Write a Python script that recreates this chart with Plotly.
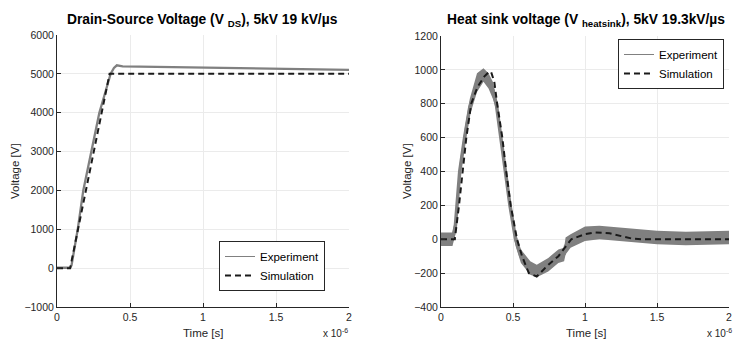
import plotly.graph_objects as go

# ---------------- data (time in microseconds, voltage in V) ----------------
ds_t_exp = [0, 0.09, 0.10, 0.12, 0.142, 0.18, 0.233, 0.29, 0.329, 0.367, 0.39, 0.41,
            0.45, 0.6, 0.8, 1.0, 1.2, 1.4, 1.6, 1.8, 2.0]
ds_v_exp = [10, 10, 80, 500, 1000, 2000, 3000, 4000, 4500, 5000, 5150, 5220,
            5195, 5185, 5170, 5160, 5150, 5135, 5120, 5110, 5100]
ds_t_sim = [0, 0.09, 0.36, 2.0]
ds_v_sim = [0, 0, 5000, 5000]

hs_t_exp = [0, 0.08, 0.10, 0.13, 0.164, 0.20, 0.25, 0.295, 0.33, 0.36, 0.384, 0.415,
            0.45, 0.479, 0.518, 0.555, 0.62, 0.665, 0.745, 0.815, 0.855, 0.865, 0.90,
            1.0, 1.1, 1.3, 1.5, 1.7, 1.9, 2.0]
hs_v_exp = [0, 0, 80, 400, 600, 780, 920, 970, 935, 880, 800, 600,
            400, 200, 0, -100, -170, -185, -150, -100, -85, -40, -10,
            30, 40, 25, 10, 5, 10, 10]
hs_v_exp_hi = [40, 40, 130, 450, 650, 830, 980, 1010, 980, 930, 840, 640,
               440, 240, 40, -60, -130, -150, -110, -60, -50, 10, 30,
               75, 80, 65, 50, 45, 50, 50]
hs_v_exp_lo = [-40, -40, 30, 350, 550, 730, 870, 930, 890, 830, 760, 560,
               360, 160, -40, -140, -210, -225, -190, -140, -130, -90, -50,
               -10, 0, -15, -30, -35, -30, -30]
hs_t_sim = [0, 0.096, 0.125, 0.149, 0.176, 0.21, 0.254, 0.30, 0.33, 0.347, 0.37, 0.39,
            0.426, 0.453, 0.484, 0.528, 0.563, 0.61, 0.665, 0.746, 0.815, 0.86, 0.905,
            1.0, 1.07, 1.17, 1.25, 1.32, 1.4, 1.6, 1.8, 2.0]
hs_v_sim = [0, 0, 200, 400, 600, 800, 900, 960, 985, 990, 930, 800,
            600, 400, 200, 0, -100, -200, -220, -150, -100, -50, 0,
            30, 40, 35, 20, 5, 0, 0, 0, 0]

x_ticks = [0, 0.5, 1, 1.5, 2]
x_ticktext = ["0", "0.5", "1", "1.5", "2"]
ds_y_ticks = [-1000, 0, 1000, 2000, 3000, 4000, 5000, 6000]
hs_y_ticks = [-400, -200, 0, 200, 400, 600, 800, 1000, 1200]

# ---------------- style ----------------
W, H = 734, 340
EXP_C = "#808080"
SIM_C = "#1a1a1a"
AX_C = "#262626"
GRID_C = "#ebebeb"
FONT = "Liberation Sans, Arial, sans-serif"

fig = go.Figure()

# Left: drain-source
fig.add_trace(go.Scatter(x=ds_t_exp, y=ds_v_exp, mode="lines", xaxis="x", yaxis="y",
                         line=dict(color=EXP_C, width=2.3), showlegend=False, hoverinfo="skip"))
fig.add_trace(go.Scatter(x=ds_t_sim, y=ds_v_sim, mode="lines", xaxis="x", yaxis="y",
                         line=dict(color=SIM_C, width=2, dash="6px,4px"), showlegend=False))
fig.add_trace(go.Scatter(x=[None], y=[None], mode="lines", xaxis="x", yaxis="y",
                         line=dict(color=EXP_C, width=1), name="Experiment", legend="legend"))
fig.add_trace(go.Scatter(x=[None], y=[None], mode="lines", xaxis="x", yaxis="y",
                         line=dict(color=SIM_C, width=2, dash="6px,4px"), name="Simulation",
                         legend="legend"))

# Right: heat sink
fig.add_trace(go.Scatter(x=hs_t_exp, y=hs_v_exp_lo, mode="lines", xaxis="x2", yaxis="y2",
                         line=dict(color=EXP_C, width=0), showlegend=False, hoverinfo="skip"))
fig.add_trace(go.Scatter(x=hs_t_exp, y=hs_v_exp_hi, mode="lines", xaxis="x2", yaxis="y2",
                         line=dict(color=EXP_C, width=0), fill="tonexty", fillcolor=EXP_C,
                         showlegend=False, hoverinfo="skip"))
fig.add_trace(go.Scatter(x=hs_t_exp, y=hs_v_exp, mode="lines", xaxis="x2", yaxis="y2",
                         line=dict(color=EXP_C, width=3.5), showlegend=False))
fig.add_trace(go.Scatter(x=hs_t_sim, y=hs_v_sim, mode="lines", xaxis="x2", yaxis="y2",
                         line=dict(color=SIM_C, width=2, dash="6px,4px"), showlegend=False))
fig.add_trace(go.Scatter(x=[None], y=[None], mode="lines", xaxis="x2", yaxis="y2",
                         line=dict(color=EXP_C, width=1), name="Experiment", legend="legend2"))
fig.add_trace(go.Scatter(x=[None], y=[None], mode="lines", xaxis="x2", yaxis="y2",
                         line=dict(color=SIM_C, width=2, dash="6px,4px"), name="Simulation",
                         legend="legend2"))


def px_x(p):
    return p / W


def px_y(p):
    return 1 - p / H


common_x = dict(range=[0, 2], tickvals=x_ticks, ticktext=x_ticktext, showgrid=True,
                gridcolor=GRID_C, gridwidth=1, zeroline=False, showline=True,
                linecolor=AX_C, linewidth=1, ticks="inside", ticklen=4, tickcolor=AX_C,
                tickfont=dict(size=10.5, color=AX_C, family=FONT), mirror=False,
                automargin=False, ticklabeloverflow="allow")
common_y = dict(showgrid=True, gridcolor=GRID_C, gridwidth=1, zeroline=False, showline=True,
                linecolor=AX_C, linewidth=1, ticks="inside", ticklen=4, tickcolor=AX_C,
                tickfont=dict(size=10.5, color=AX_C, family=FONT), mirror=False,
                automargin=False)

legend_style = dict(bgcolor="white", bordercolor=AX_C, borderwidth=1,
                    font=dict(size=11.5, color="#000000", family=FONT),
                    xanchor="right", yanchor="middle", tracegroupgap=0, itemwidth=30,
                    traceorder="normal")

fig.update_layout(
    width=W, height=H,
    margin=dict(l=0, r=0, t=0, b=0, autoexpand=False),
    paper_bgcolor="white", plot_bgcolor="white",
    font=dict(family=FONT, color=AX_C),
    xaxis=dict(domain=[px_x(57), px_x(349)], anchor="y", **common_x),
    yaxis=dict(domain=[px_y(307), px_y(35)], anchor="x", range=[-1000, 6000],
               tickvals=ds_y_ticks, **common_y),
    xaxis2=dict(domain=[px_x(441), px_x(729)], anchor="y2", **common_x),
    yaxis2=dict(domain=[px_y(307), px_y(36)], anchor="x2", range=[-400, 1200],
                tickvals=hs_y_ticks, **common_y),
    legend=dict(x=px_x(325), y=px_y(266), **legend_style),
    legend2=dict(x=px_x(724), y=px_y(64), **legend_style),
    showlegend=True,
)

ann = []
title_font = dict(size=13.8, color="#000000", family=FONT)
ann.append(dict(text="<b>Drain-Source Voltage (V <sub>DS</sub>), 5kV 19 kV/µs</b>",
                x=px_x(202), y=px_y(20), xref="paper", yref="paper",
                xanchor="center", yanchor="middle", showarrow=False, font=title_font))
ann.append(dict(text="<b>Heat sink voltage (V <sub>heatsink</sub>), 5kV 19.3kV/µs</b>",
                x=px_x(586), y=px_y(20), xref="paper", yref="paper",
                xanchor="center", yanchor="middle", showarrow=False, font=title_font))
lab_font = dict(size=11.5, color=AX_C, family=FONT)
for cx in (203, 586):
    ann.append(dict(text="Time [s]", x=px_x(cx), y=px_y(333), xref="paper", yref="paper",
                    xanchor="center", yanchor="middle", showarrow=False, font=lab_font))
for rx in (350, 734):
    ann.append(dict(text="x 10<sup>-6</sup>", x=px_x(rx), y=px_y(333), xref="paper",
                    yref="paper", xanchor="right", yanchor="middle", showarrow=False,
                    font=dict(size=10, color=AX_C, family=FONT)))
for lx, cy in ((15, 171), (407, 171)):
    ann.append(dict(text="Voltage [V]", x=px_x(lx), y=px_y(cy), xref="paper", yref="paper",
                    xanchor="center", yanchor="middle", textangle=-90, showarrow=False,
                    font=lab_font))
fig.update_layout(annotations=ann)

fig.write_html(
    "out.html",
    config={"displayModeBar": False},
    post_script="document.body.style.margin='0';document.body.style.padding='0';"
                "document.body.style.overflow='hidden';",
)
